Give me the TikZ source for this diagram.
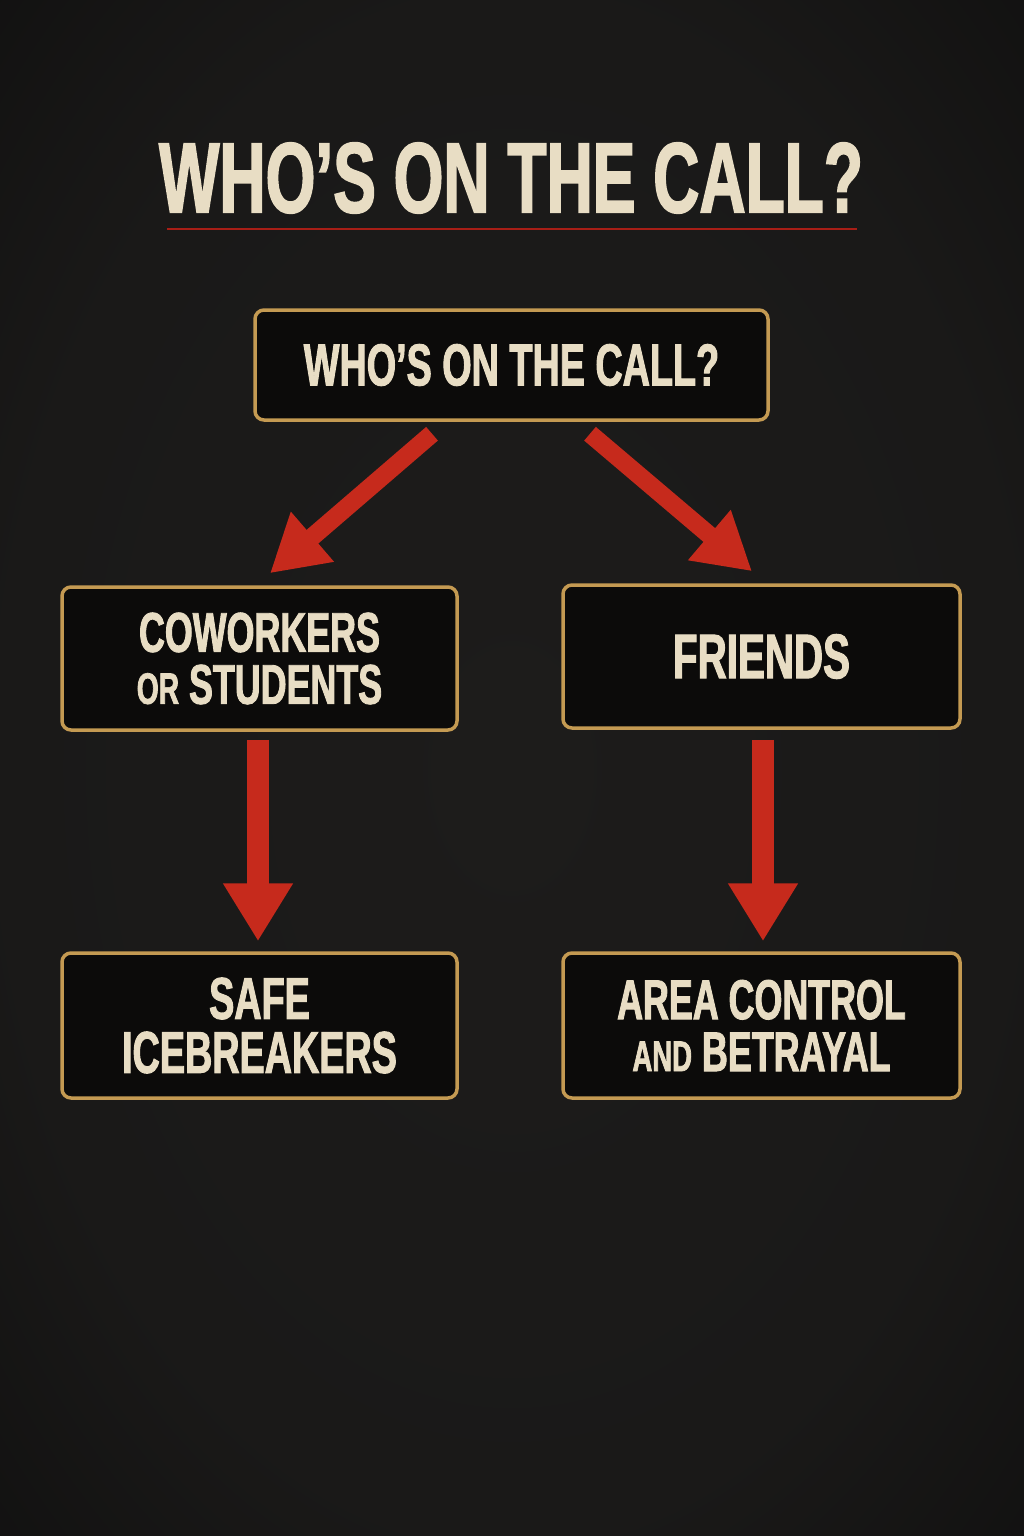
\documentclass[tikz,border=0pt]{standalone}
\usepackage{fontspec}
\usetikzlibrary{arrows.meta,calc}
\newfontfamily\cond{Liberation Sans}[FakeStretch=0.64, FakeBold=1.6]
\definecolor{bgin}{HTML}{1D1C1B}
\definecolor{bgout}{HTML}{080808}
\definecolor{gold}{HTML}{C49A52}
\definecolor{boxfill}{HTML}{0C0B0A}
\definecolor{cream}{HTML}{E8DDC4}
\definecolor{arrred}{HTML}{C62A1C}
\definecolor{ulred}{HTML}{A81E16}
\pgfdeclareradialshading{vign}{\pgfpoint{0bp}{0bp}}{color(0bp)=(bgin); color(25bp)=(bgin!85!bgout); color(50bp)=(bgout); color(75bp)=(bgout)}
\begin{document}
\begin{tikzpicture}[x=1pt,y=-1pt,
  box/.style={draw=gold, line width=3.5pt, fill=boxfill, rounded corners=9pt,
    text=cream, align=center, inner sep=0pt, font=\cond\bfseries},
  arr/.style={draw=arrred, line width=18pt, -{Triangle[width=62pt,length=56pt]}},
  varr/.style={arr, line width=22pt, -{Triangle[width=66pt,length=58pt]}},
  ttl/.style={text=cream, inner sep=0pt, font=\cond\bfseries\fontsize{100}{100}\selectfont}
]
\shade[shading=vign] (0,0) rectangle (1024,1536);
\useasboundingbox (0,0) rectangle (1024,1536);

\node[ttl] (title) at (511,178) {WHO’S ON THE CALL?};
\coordinate (ul1) at (167,229);
\coordinate (ul2) at (857,229);
\draw[ulred, line width=2pt] (ul1) -- (ul2);

\node[box, minimum width=513pt, minimum height=110pt, font=\cond\bfseries\fontsize{59}{59}\selectfont]
  (top) at (511.5,365) {WHO’S ON THE CALL?};

\node[box, minimum width=395pt, minimum height=143pt, font=\cond\bfseries\fontsize{56}{52}\selectfont]
  (cow) at (259.5,658.5) {COWORKERS\\{\fontsize{44}{52}\selectfont OR} STUDENTS};
\node[box, minimum width=397pt, minimum height=143pt, font=\cond\bfseries\fontsize{63}{63}\selectfont]
  (fri) at (761.5,656.5) {FRIENDS};

\node[box, minimum width=395pt, minimum height=145pt, font=\cond\bfseries\fontsize{59}{54}\selectfont]
  (safe) at (259.5,1025.5) {SAFE\\ICEBREAKERS};
\node[box, minimum width=397pt, minimum height=145pt, font=\cond\bfseries\fontsize{56}{52}\selectfont]
  (area) at (761.5,1025.5) {AREA CONTROL\\{\fontsize{43}{52}\selectfont AND} BETRAYAL};

\draw[arr] ([xshift=-79.5pt,yshift=-12pt]top.south) -- ([xshift=10.5pt,yshift=12pt]cow.north);
\draw[arr] ([xshift=78.5pt,yshift=-12pt]top.south) -- ([xshift=-9.5pt,yshift=12pt]fri.north);
\draw[varr] ([xshift=-1.5pt,yshift=-8pt]cow.south) -- ([xshift=-1.5pt,yshift=10pt]safe.north);
\draw[varr] ([xshift=1.5pt,yshift=-10pt]fri.south) -- ([xshift=1.5pt,yshift=10pt]area.north);
\end{tikzpicture}
\end{document}
